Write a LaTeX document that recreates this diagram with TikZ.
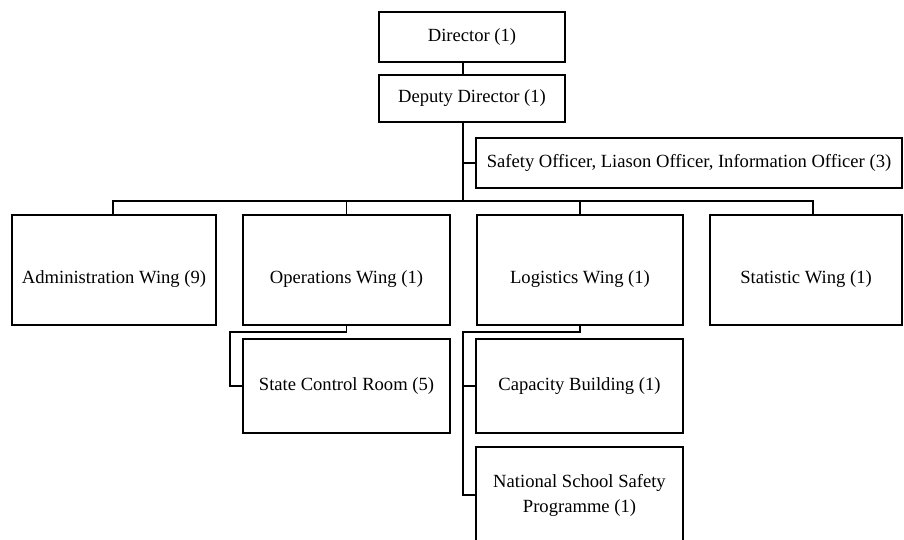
\documentclass[tikz,border=0pt]{standalone}
\usepackage{fontspec}
\setmainfont{Liberation Serif}
\begin{document}
\begin{tikzpicture}[x=1pt,y=-1pt,
  box/.style={draw,line width=1.8pt,inner sep=0pt,rectangle},
  lbl/.style={inner sep=0pt,font=\fontsize{18.6}{25}\selectfont,align=center},
  conn/.style={line width=1.8pt}]
\useasboundingbox (0,0) rectangle (904,540);
\clip (0,0) rectangle (904,540);
\fill[white] (0,0) rectangle (904,540);
% top boxes
\node[box,lbl,minimum width=186pt,minimum height=50pt] (dir) at (472,37) {Director (1)};
\node[box,lbl,minimum width=186pt,minimum height=47pt] (dep) at (472,98.5) {Deputy Director (1)};
\node[box,lbl,minimum width=426pt,minimum height=50pt] (safe) at (689,163) {Safety Officer, Liason Officer, Information Officer (3)};
% wings
\node[box,minimum width=204pt,minimum height=110pt] (admin) at (114,270) {};
\node[lbl] (adminT) at (114,279) {Administration Wing (9)};
\node[box,minimum width=207pt,minimum height=110pt] (ops) at (346.5,270) {};
\node[lbl] (opsT) at (346.5,279) {Operations Wing (1)};
\node[box,minimum width=206pt,minimum height=110pt] (log) at (580,270) {};
\node[lbl] (logT) at (580,279) {Logistics Wing (1)};
\node[box,minimum width=192pt,minimum height=110pt] (stat) at (806,270) {};
\node[lbl] (statT) at (806,279) {Statistic Wing (1)};
% sub boxes
\node[box,lbl,minimum width=207pt,minimum height=94pt] (scr) at (346.5,386) {State Control Room (5)};
\node[box,lbl,minimum width=207pt,minimum height=94pt] (cap) at (579.5,386) {Capacity Building (1)};
\node[box,minimum width=207pt,minimum height=120pt] (nss) at (579.5,507) {};
\node[lbl] (nssT) at (579.5,495) {National School Safety\\Programme (1)};
% connectors
\coordinate (bus) at (463,201);
\coordinate (opsbend) at (230,332);
\coordinate (logbend) at (463,332);
\draw[conn] ([xshift=-9pt]dir.south) -- ([xshift=-9pt]dep.north);
\draw[conn] ([xshift=-9pt]dep.south) -- (bus);
\draw[conn] (safe.west) -- (safe.west -| bus);
\draw[conn] (bus) -| ([xshift=-1pt]admin.north);
\draw[conn] (bus) -| (ops.north);
\draw[conn] (bus) -| (log.north);
\draw[conn] (bus) -| ([xshift=7pt]stat.north);
\draw[conn] (ops.south) |- (opsbend) |- (scr.west);
\draw[conn] (log.south) |- (logbend) |- (nss.west |- nssT.center);
\draw[conn] (cap.west) -- (cap.west -| logbend);
\end{tikzpicture}
\end{document}
